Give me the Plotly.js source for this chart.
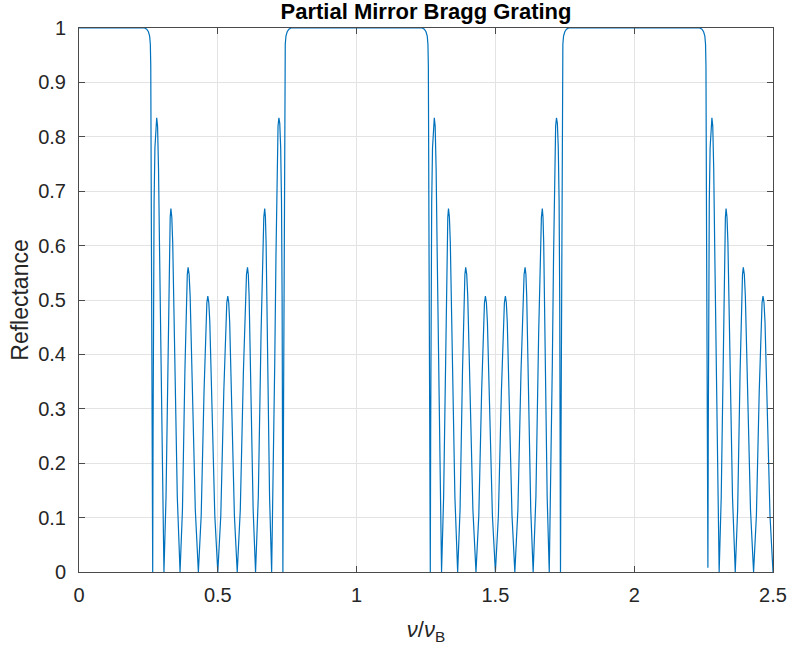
<!DOCTYPE html>
<html>
<head>
<meta charset="utf-8">
<script src="https://cdn.plot.ly/plotly-3.0.1.min.js"></script>
<style>html,body{margin:0;padding:0;background:#fff;}#chart{width:793px;height:651px;}</style>
</head>
<body>
<div id="chart"></div>
<script>
// Reflectance curve, split by period
const seg1X = [0, 0.236, 0.244, 0.25, 0.2545, 0.257, 0.2585, 0.2605, 0.263, 0.2655,
  0.2668, 0.2683, 0.2705, 0.2735, 0.2768, 0.2799, 0.283, 0.2865, 0.2905, 0.295, 0.3005, 0.306,
  0.3135, 0.321, 0.326, 0.3285, 0.331, 0.3343, 0.3376, 0.3442, 0.3541, 0.364,
  0.3727, 0.3814, 0.3872, 0.3901, 0.393, 0.3967, 0.4004, 0.4078, 0.4189, 0.43,
  0.4402, 0.4504, 0.4572, 0.4606, 0.464, 0.4676, 0.4712, 0.4784, 0.4892, 0.5,
  0.5108, 0.5216, 0.5288, 0.5324, 0.536, 0.5394, 0.5428, 0.5496, 0.5598, 0.57,
  0.5811, 0.5922, 0.5996, 0.6033, 0.607, 0.6099, 0.6128, 0.6186, 0.6273, 0.636,
  0.6459, 0.6558, 0.6624, 0.6657, 0.669, 0.6715, 0.674, 0.679, 0.6865, 0.694,
  0.6995, 0.705, 0.7095, 0.7135, 0.717, 0.7201, 0.7232, 0.7265, 0.7295, 0.7317, 0.7332, 0.7345,
  0.737, 0.7395, 0.7415, 0.743, 0.7455, 0.75, 0.756, 0.764];
const seg1Y = [1, 1, 0.998, 0.993, 0.985, 0.97, 0.93, 0.65, 0.32, 0,
  0.25, 0.5, 0.68, 0.78, 0.825, 0.835, 0.82, 0.74, 0.58, 0.38, 0.17, 0,
  0.138, 0.438, 0.605, 0.652, 0.668, 0.652, 0.605, 0.438, 0.138, 0,
  0.115, 0.367, 0.507, 0.547, 0.56, 0.547, 0.507, 0.367, 0.115, 0,
  0.104, 0.332, 0.459, 0.495, 0.507, 0.495, 0.459, 0.332, 0.104, 0,
  0.104, 0.332, 0.459, 0.495, 0.507, 0.495, 0.459, 0.332, 0.104, 0,
  0.115, 0.367, 0.507, 0.547, 0.56, 0.547, 0.507, 0.367, 0.115, 0,
  0.138, 0.438, 0.605, 0.652, 0.668, 0.652, 0.605, 0.438, 0.138, 0,
  0.17, 0.38, 0.58, 0.74, 0.82, 0.835, 0.825, 0.78, 0.68, 0.5, 0.25, 0,
  0.32, 0.65, 0.93, 0.97, 0.985, 0.993, 0.998, 1];

const seg2X = [1.236, 1.244, 1.25, 1.2545, 1.257, 1.2585, 1.2605, 1.263, 1.2655,
  1.2668, 1.2683, 1.2705, 1.2735, 1.2768, 1.2799, 1.283, 1.2865, 1.2905, 1.295, 1.3005, 1.306,
  1.3135, 1.321, 1.326, 1.3285, 1.331, 1.3343, 1.3376, 1.3442, 1.3541, 1.364,
  1.3727, 1.3814, 1.3872, 1.3901, 1.393, 1.3967, 1.4004, 1.4078, 1.4189, 1.43,
  1.4402, 1.4504, 1.4572, 1.4606, 1.464, 1.4676, 1.4712, 1.4784, 1.4892, 1.5,
  1.5108, 1.5216, 1.5288, 1.5324, 1.536, 1.5394, 1.5428, 1.5496, 1.5598, 1.57,
  1.5811, 1.5922, 1.5996, 1.6033, 1.607, 1.6099, 1.6128, 1.6186, 1.6273, 1.636,
  1.6459, 1.6558, 1.6624, 1.6657, 1.669, 1.6715, 1.674, 1.679, 1.6865, 1.694,
  1.6995, 1.705, 1.7095, 1.7135, 1.717, 1.7201, 1.7232, 1.7265, 1.7295, 1.7317, 1.7332, 1.7345,
  1.737, 1.7395, 1.7415, 1.743, 1.7455, 1.75, 1.756, 1.764];
const seg2Y = [1, 0.998, 0.993, 0.985, 0.97, 0.93, 0.65, 0.32, 0,
  0.25, 0.5, 0.68, 0.78, 0.825, 0.835, 0.82, 0.74, 0.58, 0.38, 0.17, 0,
  0.138, 0.438, 0.605, 0.652, 0.668, 0.652, 0.605, 0.438, 0.138, 0,
  0.115, 0.367, 0.507, 0.547, 0.56, 0.547, 0.507, 0.367, 0.115, 0,
  0.104, 0.332, 0.459, 0.495, 0.507, 0.495, 0.459, 0.332, 0.104, 0,
  0.104, 0.332, 0.459, 0.495, 0.507, 0.495, 0.459, 0.332, 0.104, 0,
  0.115, 0.367, 0.507, 0.547, 0.56, 0.547, 0.507, 0.367, 0.115, 0,
  0.138, 0.438, 0.605, 0.652, 0.668, 0.652, 0.605, 0.438, 0.138, 0,
  0.17, 0.38, 0.58, 0.74, 0.82, 0.835, 0.825, 0.78, 0.68, 0.5, 0.25, 0,
  0.32, 0.65, 0.93, 0.97, 0.985, 0.993, 0.998, 1];

const seg3X = [2.236, 2.244, 2.25, 2.2545, 2.257, 2.2585, 2.2605, 2.263, 2.2655,
  2.2668, 2.2683, 2.2705, 2.2735, 2.2768, 2.2799, 2.283, 2.2865, 2.2905, 2.295, 2.3005, 2.306,
  2.3135, 2.321, 2.326, 2.3285, 2.331, 2.3343, 2.3376, 2.3442, 2.3541, 2.364,
  2.3727, 2.3814, 2.3872, 2.3901, 2.393, 2.3967, 2.4004, 2.4078, 2.4189, 2.43,
  2.4402, 2.4504, 2.4572, 2.4606, 2.464, 2.4676, 2.4712, 2.4784, 2.4892, 2.5];
const seg3Y = [1, 0.998, 0.993, 0.985, 0.97, 0.93, 0.65, 0.32, 0.008,
  0.25, 0.5, 0.68, 0.78, 0.825, 0.835, 0.82, 0.74, 0.58, 0.38, 0.17, 0,
  0.138, 0.438, 0.605, 0.652, 0.668, 0.652, 0.605, 0.438, 0.138, 0,
  0.115, 0.367, 0.507, 0.547, 0.56, 0.547, 0.507, 0.367, 0.115, 0,
  0.104, 0.332, 0.459, 0.495, 0.507, 0.495, 0.459, 0.332, 0.104, 0];

const xTicks = [0, 0.5, 1, 1.5, 2, 2.5];
const xTickLabels = ['0', '0.5', '1', '1.5', '2', '2.5'];
const yTicks = [0, 0.1, 0.2, 0.3, 0.4, 0.5, 0.6, 0.7, 0.8, 0.9, 1];
const yTickLabels = ['0', '0.1', '0.2', '0.3', '0.4', '0.5', '0.6', '0.7', '0.8', '0.9', '1'];

const trace = {
  x: seg1X.concat(seg2X, seg3X),
  y: seg1Y.concat(seg2Y, seg3Y),
  type: 'scatter',
  mode: 'lines',
  line: {color: '#0072BD', width: 1.2},
  hoverinfo: 'skip'
};

const font = 'Liberation Sans, Arial, Helvetica, sans-serif';
const axisCommon = {
  showline: true, mirror: 'ticks', linecolor: '#4a4a4a', linewidth: 1,
  ticks: 'inside', ticklen: 6, tickcolor: '#4a4a4a', tickwidth: 1,
  showgrid: true, gridcolor: '#e3e3e3', gridwidth: 1, zeroline: false,
  tickfont: {family: font, size: 20, color: '#262626'},
  fixedrange: true
};

const layout = {
  width: 793, height: 651,
  margin: {l: 79, r: 20, t: 28, b: 79},
  paper_bgcolor: '#ffffff', plot_bgcolor: '#ffffff',
  showlegend: false,
  title: {
    text: '<b>Partial Mirror Bragg Grating</b>',
    font: {family: font, size: 22, color: '#000000'},
    x: 0.5, xref: 'paper', xanchor: 'center',
    y: 0.983, yref: 'container', yanchor: 'middle'
  },
  xaxis: Object.assign({}, axisCommon, {
    range: [0, 2.5], tickvals: xTicks, ticktext: xTickLabels,
    ticklabelstandoff: 5,
    title: {text: '<i>ν</i>/<i>ν</i><sub>B</sub>', font: {family: font, size: 22, color: '#262626'}, standoff: 16}
  }),
  yaxis: Object.assign({}, axisCommon, {
    range: [0, 1], tickvals: yTicks, ticktext: yTickLabels,
    ticklabelstandoff: 8,
    title: {text: 'Reflectance', font: {family: font, size: 23, color: '#262626'}, standoff: 3}
  })
};

Plotly.newPlot('chart', [trace], layout, {displayModeBar: false, staticPlot: true});
</script>
</body>
</html>
